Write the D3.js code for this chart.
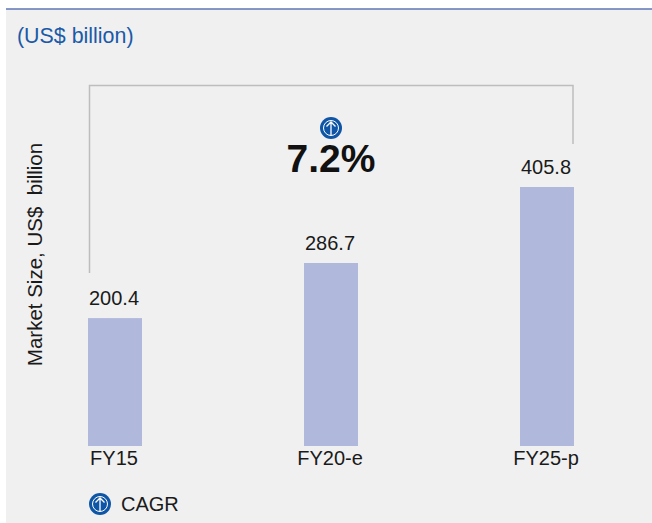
<!DOCTYPE html>
<html>
<head>
<meta charset="utf-8">
<script src="https://cdn.jsdelivr.net/npm/d3@7"></script>
<style>
  html, body { margin: 0; padding: 0; background: #fff; }
  svg { display: block; }
  text { font-family: "Liberation Sans", Arial, sans-serif; fill: #1a1a1a; }
</style>
</head>
<body>
<div id="chart"></div>
<script>
const categories = ['FY15', 'FY20-e', 'FY25-p'];
const values = [200.4, 286.7, 405.8];
const valueLabels = ['200.4', '286.7', '405.8'];
const unitLabel = '(US$ billion)';
const axisTitle = 'Market Size, US$  billion';
const cagrValue = '7.2%';
const legendLabel = 'CAGR';

const width = 652;
const height = 523;
const baseline = 446;

const svg = d3.select('#chart').append('svg')
  .attr('width', width)
  .attr('height', height);

/* ---------- panel ---------- */
svg.append('rect')
  .attr('x', 6).attr('y', 9)
  .attr('width', width - 6).attr('height', height - 9)
  .attr('fill', '#f0f0f0');

svg.append('line')
  .attr('x1', 6).attr('x2', width)
  .attr('y1', 9).attr('y2', 9)
  .attr('stroke', '#5f74b4')
  .attr('stroke-width', 1.5);

svg.append('text')
  .attr('x', 17).attr('y', 43)
  .attr('font-size', 21.4)
  .style('fill', '#1a5aa8')
  .text(unitLabel);

/* ---------- scales ---------- */
const x = d3.scaleBand()
  .domain(categories)
  .range([88, 574])
  .paddingInner(0.75)
  .paddingOuter(0);

const y = d3.scaleLinear()
  .domain([0, 405.8])
  .range([baseline, 187]);

/* ---------- bracket ---------- */
const first = categories[0];
const last = categories[categories.length - 1];
const bracketTop = 85.5;
const bracket = d3.path();
bracket.moveTo(x(first) + 1.5, y(values[0]) - 45);
bracket.lineTo(x(first) + 1.5, bracketTop);
bracket.lineTo(x(last) + x.bandwidth() - 1, bracketTop);
bracket.lineTo(x(last) + x.bandwidth() - 1, y(values[2]) - 43);

svg.append('path')
  .attr('d', bracket.toString())
  .attr('fill', 'none')
  .attr('stroke', '#bdbdbd')
  .attr('stroke-width', 1.5);

/* ---------- bars ---------- */
svg.selectAll('rect.bar')
  .data(values)
  .enter()
  .append('rect')
  .attr('class', 'bar')
  .attr('x', (d, i) => x(categories[i]))
  .attr('y', d => y(d))
  .attr('width', x.bandwidth())
  .attr('height', d => baseline - y(d))
  .attr('fill', '#b0b8dc');

svg.selectAll('text.value')
  .data(values)
  .enter()
  .append('text')
  .attr('class', 'value')
  .attr('x', (d, i) => x(categories[i]) + x.bandwidth() / 2 - 1)
  .attr('y', d => y(d) - 13)
  .attr('text-anchor', 'middle')
  .attr('font-size', 20)
  .text((d, i) => valueLabels[i]);

svg.selectAll('text.cat')
  .data(categories)
  .enter()
  .append('text')
  .attr('class', 'cat')
  .attr('x', d => x(d) + x.bandwidth() / 2 - 1)
  .attr('y', 465)
  .attr('text-anchor', 'middle')
  .attr('font-size', 20)
  .text(d => d);

/* ---------- axis title ---------- */
svg.append('text')
  .attr('transform', 'translate(41.5,254.5) rotate(-90)')
  .attr('text-anchor', 'middle')
  .attr('font-size', 20.5)
  .style('white-space', 'pre')
  .text(axisTitle);

/* ---------- CAGR ---------- */
function arrowIcon(cx, cy) {
  const g = svg.append('g').attr('transform', `translate(${cx},${cy})`);
  g.append('circle').attr('r', 11).attr('fill', '#0f55a5');
  g.append('circle').attr('r', 7.5).attr('fill', 'none').attr('stroke', '#fff').attr('stroke-width', 1);
  g.append('path')
    .attr('d', 'M0,7.5V-6M-4.5,-1.5L0,-6L4.5,-1.5')
    .attr('fill', 'none')
    .attr('stroke', '#fff')
    .attr('stroke-width', 1.3);
}

arrowIcon(331, 128);

svg.append('text')
  .attr('x', 331).attr('y', 172)
  .attr('text-anchor', 'middle')
  .attr('font-size', 39)
  .attr('font-weight', 'bold')
  .style('fill', '#111')
  .text(cagrValue);

arrowIcon(100, 504);

svg.append('text')
  .attr('x', 121).attr('y', 511)
  .attr('font-size', 20)
  .text(legendLabel);
</script>
</body>
</html>
